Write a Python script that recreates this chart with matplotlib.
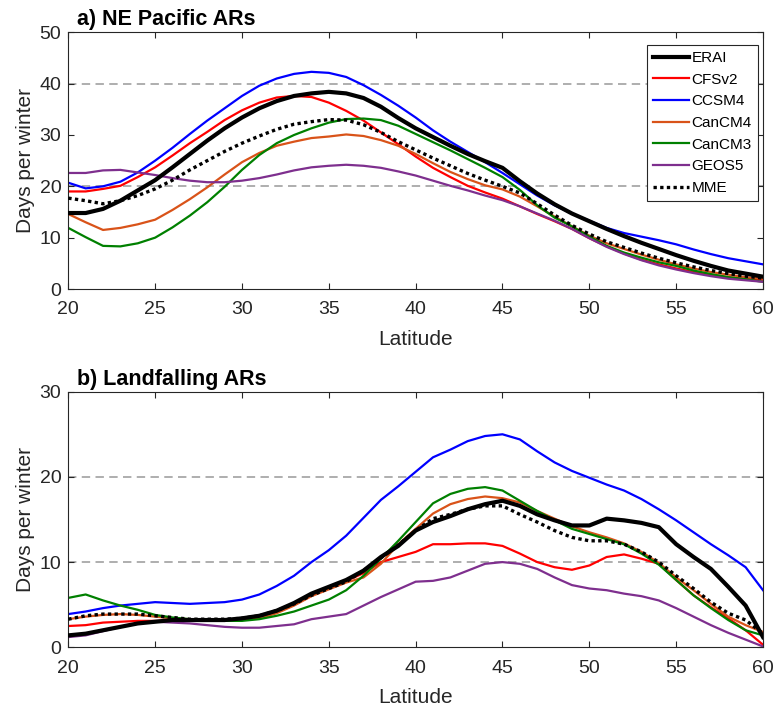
import numpy as np
import matplotlib
matplotlib.use("Agg")
import matplotlib.pyplot as plt

plt.rcParams['font.family'] = ['Liberation Sans', 'DejaVu Sans']

lat = list(range(20, 61))

# Panel a: NE Pacific ARs (days per winter)
erai_a = [14.8, 14.8, 15.6, 17.2, 19.2, 21.2, 23.7, 26.3, 28.9, 31.3, 33.4, 35.2, 36.6, 37.6, 38.1,
          38.4, 38.1, 37.2, 35.5, 33.3, 31.3, 29.6, 27.9, 26.3, 24.9,
          23.6, 21.0, 18.6, 16.5, 14.7, 13.2, 11.7, 10.3, 9.0, 7.8, 6.6, 5.5, 4.5, 3.6, 3.0, 2.4]
cfsv2_a = [19.0, 19.0, 19.5, 20.1, 21.8, 23.7, 26.0, 28.4, 30.6, 32.9, 34.8, 36.3, 37.3, 37.6, 37.4,
           36.3, 34.7, 32.8, 30.5, 28.2, 25.8, 23.6, 21.8, 20.1, 18.8,
           17.6, 16.1, 14.6, 13.2, 11.7, 9.9, 8.3, 6.9, 5.7, 4.8, 4.0, 3.3, 2.8, 2.3, 2.0, 1.8]
ccsm4_a = [20.7, 19.6, 20.0, 20.9, 22.7, 25.0, 27.5, 30.2, 32.8, 35.2, 37.6, 39.6, 41.0, 41.9, 42.3,
           42.1, 41.3, 39.7, 37.8, 35.7, 33.4, 30.9, 28.7, 26.7, 24.7,
           22.6, 20.4, 18.2, 16.3, 14.7, 13.3, 11.9, 10.9, 10.2, 9.5, 8.7, 7.7, 6.8, 6.0, 5.4, 4.8]
cancm4_a = [14.6, 13.0, 11.5, 11.9, 12.6, 13.5, 15.4, 17.5, 19.8, 22.3, 24.7, 26.5, 27.9, 28.7, 29.4,
            29.7, 30.1, 29.8, 29.0, 27.9, 26.3, 24.5, 22.8, 21.4, 20.2,
            19.4, 18.0, 16.1, 14.1, 12.2, 10.4, 8.9, 7.8, 6.7, 5.7, 4.8, 4.0, 3.3, 2.8, 2.3, 2.0]
cancm3_a = [11.9, 10.1, 8.4, 8.3, 8.9, 10.0, 12.0, 14.3, 16.9, 19.9, 23.2, 26.1, 28.4, 30.0, 31.3,
            32.4, 33.1, 33.2, 32.9, 31.8, 30.2, 28.6, 27.0, 25.3, 23.6,
            21.8, 19.3, 16.3, 13.9, 12.2, 10.2, 8.4, 7.1, 6.1, 5.2, 4.5, 3.6, 2.9, 2.3, 1.9, 1.4]
geos5_a = [22.6, 22.6, 23.1, 23.2, 22.7, 22.2, 21.6, 21.1, 20.8, 20.8, 21.1, 21.6, 22.3, 23.1, 23.7,
           24.0, 24.2, 24.0, 23.6, 22.9, 22.1, 21.1, 20.1, 19.2, 18.2,
           17.3, 16.1, 14.7, 13.3, 11.7, 9.9, 8.2, 6.8, 5.6, 4.6, 3.8, 3.1, 2.5, 2.0, 1.7, 1.4]
mme_a = [17.7, 17.2, 16.6, 17.2, 18.2, 19.5, 21.2, 23.2, 25.0, 26.8, 28.4, 29.8, 31.1, 32.1, 32.6,
         33.0, 32.9, 32.0, 30.5, 28.7, 27.1, 25.5, 24.0, 22.5, 21.2,
         20.0, 18.7, 16.6, 14.4, 12.4, 10.7, 9.2, 8.1, 7.0, 6.0, 5.1, 4.3, 3.6, 3.0, 2.5, 2.1]

# Panel b: Landfalling ARs
erai_b = [1.4, 1.6, 2.0, 2.4, 2.8, 3.0, 3.2, 3.2, 3.2, 3.2, 3.4, 3.7, 4.3, 5.2, 6.3, 7.1, 7.9,
          9.0, 10.6, 11.9, 13.7, 14.7, 15.4, 16.2, 16.8,
          17.2, 16.6, 15.6, 14.9, 14.3, 14.3, 15.1, 14.9, 14.6, 14.1, 12.1, 10.6, 9.2, 7.1, 4.9, 1.2]
cfsv2_b = [2.5, 2.6, 2.9, 3.0, 3.1, 3.1, 3.1, 3.2, 3.2, 3.2, 3.3, 3.6, 4.2, 5.1, 6.2, 7.0, 7.8,
           8.7, 10.0, 10.6, 11.2, 12.1, 12.1, 12.2, 12.2,
           11.9, 11.0, 10.0, 9.4, 9.1, 9.6, 10.6, 10.9, 10.4, 9.8, 7.9, 6.1, 4.7, 3.4, 2.0, 0.3]
ccsm4_b = [3.9, 4.2, 4.6, 4.9, 5.1, 5.3, 5.2, 5.1, 5.2, 5.3, 5.6, 6.2, 7.2, 8.4, 10.0, 11.4, 13.1,
           15.2, 17.3, 18.9, 20.6, 22.3, 23.2, 24.2, 24.8,
           25.0, 24.4, 23.0, 21.7, 20.7, 19.9, 19.1, 18.4, 17.4, 16.2, 14.9, 13.5, 12.1, 10.8, 9.4, 6.7]
cancm4_b = [3.3, 3.6, 3.8, 3.9, 3.8, 3.6, 3.4, 3.3, 3.2, 3.1, 3.2, 3.4, 4.0, 4.9, 6.0, 6.8, 7.6,
            8.2, 9.8, 12.1, 13.9, 15.7, 16.8, 17.4, 17.7,
            17.5, 17.0, 16.0, 15.1, 14.2, 13.5, 12.9, 12.2, 11.2, 9.9, 8.2, 6.7, 5.1, 3.6, 2.6, 1.8]
cancm3_b = [5.8, 6.2, 5.5, 4.9, 4.4, 3.8, 3.5, 3.3, 3.2, 3.1, 3.1, 3.3, 3.7, 4.2, 4.9, 5.6, 6.7,
            8.4, 10.4, 12.5, 14.7, 16.9, 18.0, 18.6, 18.8,
            18.4, 17.2, 16.0, 14.9, 13.9, 13.3, 12.7, 12.1, 11.0, 9.7, 7.9, 6.1, 4.6, 3.2, 2.0, 1.4]
geos5_b = [1.2, 1.4, 1.9, 2.4, 2.8, 3.0, 2.9, 2.8, 2.6, 2.4, 2.3, 2.3, 2.5, 2.7, 3.3, 3.6, 3.9,
           4.9, 5.9, 6.8, 7.7, 7.8, 8.2, 9.0, 9.8,
           10.0, 9.8, 9.2, 8.2, 7.3, 6.9, 6.7, 6.3, 6.0, 5.5, 4.6, 3.6, 2.6, 1.7, 0.9, 0.1]
mme_b = [3.3, 3.7, 3.9, 3.9, 3.9, 3.7, 3.5, 3.3, 3.3, 3.3, 3.4, 3.7, 4.3, 5.1, 6.1, 6.9, 7.7,
         9.0, 10.5, 12.0, 13.7, 15.1, 15.6, 16.2, 16.6,
         16.6, 15.6, 14.7, 13.7, 12.9, 12.5, 12.5, 12.1, 11.2, 10.0, 8.4, 6.9, 5.3, 4.0, 3.2, 1.6]

names = ['ERAI', 'CFSv2', 'CCSM4', 'CanCM4', 'CanCM3', 'GEOS5', 'MME']
colors = ['#000000', '#FF0000', '#0000FF', '#D95319', '#008000', '#7E2F8E', '#000000']
titles = ['a) NE Pacific ARs', 'b) Landfalling ARs']
yticks_a = [0, 10, 20, 30, 40, 50]
yticks_b = [0, 10, 20, 30]
xticks = [20, 25, 30, 35, 40, 45, 50, 55, 60]
dash_a = [20, 40]
dash_b = [10, 20]

axcol = '#262626'
fig = plt.figure(figsize=(7.75, 7.07), dpi=100)
W, H = 775, 707
ax_a = fig.add_axes([68.3 / W, 1 - 289 / H, (763 - 68.3) / W, (289 - 32.3) / H])
ax_b = fig.add_axes([68.3 / W, 1 - 647.3 / H, (763 - 68.3) / W, (647.3 - 391.7) / H])

panels = [
    (ax_a, [erai_a, cfsv2_a, ccsm4_a, cancm4_a, cancm3_a, geos5_a, mme_a], yticks_a, dash_a, titles[0]),
    (ax_b, [erai_b, cfsv2_b, ccsm4_b, cancm4_b, cancm3_b, geos5_b, mme_b], yticks_b, dash_b, titles[1]),
]

legend_handles = []
for ax, series, yt, dl, title in panels:
    for d in dl:
        ax.axhline(d, color='#999999', lw=1.1, ls=(0, (5.5, 3.5)), zorder=1)
    handles = []
    for name, s, c in zip(names, series, colors):
        if name == 'ERAI':
            h, = ax.plot(lat, s, color=c, lw=3.0, zorder=3, label=name)
        elif name == 'MME':
            h, = ax.plot(lat, s, color=c, lw=2.4, ls=(0, (1, 1)), zorder=4, label=name)
        else:
            h, = ax.plot(lat, s, color=c, lw=1.6, zorder=2, label=name)
        handles.append(h)
    if not legend_handles:
        legend_handles = handles
    ax.set_xlim(20, 60)
    ax.set_ylim(yt[0], yt[-1])
    ax.set_xticks(xticks)
    ax.set_yticks(yt)
    ax.tick_params(direction='in', length=4.5, width=0.8, top=True, right=True,
                   colors=axcol, labelsize=14)
    ax.tick_params(axis='x', pad=9)
    ax.tick_params(axis='y', pad=5)
    for sp in ax.spines.values():
        sp.set_color(axcol)
        sp.set_linewidth(0.8)
    ax.set_xlabel('Latitude', fontsize=15, color=axcol, labelpad=8)
    ax.set_ylabel('Days per winter', fontsize=15, color=axcol, labelpad=3)
    ax.annotate(title, xy=(0, 1), xycoords='axes fraction', xytext=(6.5, 5.0),
                textcoords='offset points', fontsize=15.5, fontweight='bold',
                ha='left', va='baseline', color='#000000')

leg = ax_a.legend(handles=legend_handles, labels=names, loc='upper right',
                  bbox_to_anchor=(0.9928, 0.9505), borderaxespad=0, fontsize=11,
                  frameon=True, fancybox=False, edgecolor=axcol, framealpha=1,
                  handlelength=2.3, handletextpad=0.2, labelspacing=0.5, borderpad=0.4)
leg.get_frame().set_linewidth(0.8)

fig.savefig('out.png', dpi=100)
